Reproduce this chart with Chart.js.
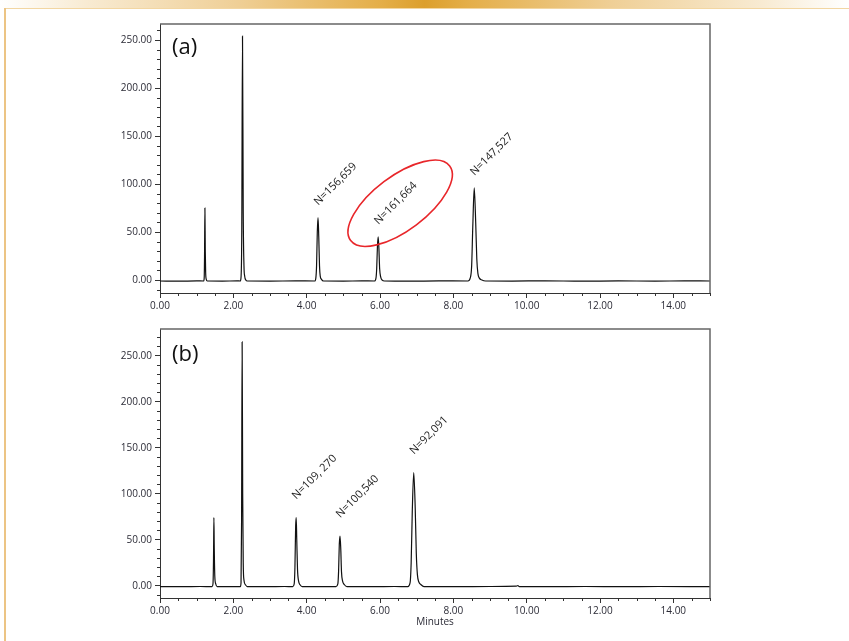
<!DOCTYPE html>
<html>
<head>
<meta charset="utf-8">
<script src="https://cdn.jsdelivr.net/npm/chart.js@4.4.1/dist/chart.umd.min.js"></script>
<style>
html, body { margin: 0; padding: 0; background: #fff; }
body { width: 849px; height: 641px; position: relative; overflow: hidden; }
#topbar { position: absolute; left: 0; top: 0; width: 849px; height: 8px;
  background: linear-gradient(to right, #fff 0%, #F8EBD3 10%, #EFCF96 28%, #E4AE48 45%, #DC9F2C 50%, #E4AE48 55%, #EFCF96 72%, #F8EBD3 90%, #fff 100%); }
#rule { position: absolute; left: 4px; top: 8px; width: 845px; height: 1px; background: #F2D6A2; }
#side { position: absolute; left: 4px; top: 8px; width: 2px; height: 633px; background: #ECC484; }
.panel { position: absolute; left: 100px; width: 620px; }
#wrapA { top: 14px; height: 310px; }
#wrapB { top: 319px; height: 322px; }
</style>
</head>
<body>
<div id="topbar"></div>
<div id="rule"></div>
<div id="side"></div>
<div class="panel" id="wrapA"><canvas id="chartA"></canvas></div>
<div class="panel" id="wrapB"><canvas id="chartB"></canvas></div>
<script>
// tick values
const xTicks = [0, 2, 4, 6, 8, 10, 12, 14];
const yTicks = [0, 50, 100, 150, 200, 250];

// chromatogram (a): time (min) and signal
const timeA = [0.00, 0.50, 1.00, 1.19, 1.205, 1.215, 1.225, 1.235, 1.245, 1.26, 1.29,
  1.70, 2.10, 2.19, 2.21, 2.23, 2.25, 2.27, 2.29, 2.31, 2.34, 2.38,
  3.00, 3.70, 4.22, 4.25, 4.27, 4.29, 4.31, 4.33, 4.35, 4.37, 4.40, 4.46,
  5.00, 5.50, 5.85, 5.89, 5.91, 5.93, 5.95, 5.97, 5.99, 6.02, 6.06, 6.12,
  6.80, 7.60, 8.40, 8.46, 8.50, 8.53, 8.57, 8.61, 8.64, 8.67, 8.71, 8.78, 8.88,
  9.60, 10.50, 11.50, 12.50, 13.50, 14.30, 15.00];
const signalA = [-1.0, -1.2, -0.9, -1.0, 2, 25, 75, 30, 8, 1, -1.0,
  -1.1, -0.9, -1.0, 3, 50, 254, 70, 15, 4, 0, -1.0,
  -1.1, -0.9, -1.0, 2, 15, 50, 65, 45, 15, 4, 1, -1.0,
  -1.1, -0.9, -1.0, 2, 12, 35, 45, 33, 12, 3, 0, -1.0,
  -1.2, -0.9, -1.0, 2, 15, 55, 96, 60, 22, 7, 2, 0, -1.0,
  -1.1, -0.8, -1.2, -0.9, -1.1, -0.9, -1.0];
const plateA = ['N=156,659', 'N=161,664', 'N=147,527'];
const plateTimeA = [4.31, 5.95, 8.57];
const plateHeightA = [65, 45, 96];

// chromatogram (b)
const timeB = [0.00, 0.60, 1.10, 1.42, 1.445, 1.46, 1.47, 1.48, 1.495, 1.52, 1.56,
  1.90, 2.19, 2.21, 2.225, 2.24, 2.255, 2.27, 2.29, 2.33, 2.38,
  2.90, 3.40, 3.62, 3.66, 3.68, 3.70, 3.715, 3.73, 3.75, 3.78, 3.82, 3.88,
  4.30, 4.80, 4.85, 4.87, 4.89, 4.91, 4.93, 4.95, 4.98, 5.03, 5.10,
  5.80, 6.40, 6.76, 6.82, 6.85, 6.88, 6.92, 6.96, 6.99, 7.02, 7.06, 7.12, 7.20,
  8.00, 9.00, 9.72, 9.76, 9.80, 10.60, 11.60, 12.60, 13.60, 15.00];
const signalB = [-1.0, -1.1, -0.9, -1.0, 2, 30, 74, 40, 10, 2, -1.0,
  -1.1, -1.0, 3, 70, 265, 100, 25, 6, 1, -1.0,
  -1.1, -0.9, -1.0, 2, 20, 65, 74, 50, 18, 5, 1, -1.0,
  -1.1, -1.0, 2, 15, 45, 54, 40, 15, 5, 1, -1.0,
  -1.1, -0.9, -1.0, 3, 25, 80, 123, 85, 35, 12, 4, 1, -1.0,
  -1.1, -0.9, -0.6, 0.2, -1.0, -1.1, -0.9, -1.1, -0.9, -1.0];
const plateB = ['N=109, 270', 'N=100,540', 'N=92,091'];
const plateTimeB = [3.71, 4.91, 6.92];
const plateHeightB = [74, 54, 123];

const tickFont = { family: '"Open Sans", sans-serif', size: 10 };
const inkColor = '#2b2b36';

// minor ticks, frame, panel tag, plate-count labels, highlight ellipse
const decor = {
    id: 'decor',
    afterDraw(chart, args, opts) {
        const { ctx, chartArea: a, scales: { x, y } } = chart;
        ctx.save();
        ctx.strokeStyle = '#333';
        ctx.lineWidth = 1;
        for (let v = 0; v <= 15.001; v += 0.5) {
            if (Math.abs(v % 2) < 0.001) continue;
            const px = Math.round(x.getPixelForValue(v)) + 0.5;
            ctx.beginPath();
            ctx.moveTo(px, a.bottom);
            ctx.lineTo(px, a.bottom + 3);
            ctx.stroke();
        }
        for (let v = -10; v <= y.max; v += 10) {
            if (v % 50 === 0) continue;
            const py = Math.round(y.getPixelForValue(v)) + 0.5;
            ctx.beginPath();
            ctx.moveTo(a.left, py);
            ctx.lineTo(a.left - 3, py);
            ctx.stroke();
        }

        // frame
        ctx.strokeStyle = '#666';
        ctx.lineWidth = 1.5;
        ctx.beginPath();
        ctx.moveTo(a.left, a.top);
        ctx.lineTo(a.right, a.top);
        ctx.lineTo(a.right, a.bottom);
        ctx.stroke();

        // panel tag
        ctx.fillStyle = '#111';
        ctx.font = '22px "Open Sans", sans-serif';
        ctx.textAlign = 'left';
        ctx.textBaseline = 'middle';
        ctx.fillText(opts.tag, a.left + 12, a.top + opts.tagDy);

        // N labels
        ctx.font = '11px "Open Sans", sans-serif';
        ctx.fillStyle = '#222';
        opts.labels.forEach((txt, i) => {
            const px = x.getPixelForValue(opts.times[i]);
            const py = y.getPixelForValue(opts.heights[i]);
            ctx.save();
            ctx.translate(px - 2, py - opts.gap);
            ctx.rotate(-Math.PI / 4);
            ctx.fillText(txt, 0, 0);
            ctx.restore();
        });

        if (opts.ellipse) {
            const e = opts.ellipse;
            ctx.strokeStyle = '#E8262A';
            ctx.lineWidth = 1.6;
            ctx.beginPath();
            ctx.ellipse(x.getPixelForValue(e.x), y.getPixelForValue(e.y), e.rx, e.ry, e.rot, 0, Math.PI * 2);
            ctx.stroke();
        }
        ctx.restore();
    }
};

function makePanel(canvasId, times, signal, yMin, yMax, xAxisHeight, showTitle, deco) {
    const points = times.map((t, i) => ({ x: t, y: signal[i] }));
    return new Chart(document.getElementById(canvasId).getContext('2d'), {
        type: 'line',
        data: {
            datasets: [{
                data: points,
                borderColor: '#111',
                borderWidth: 1.2,
                pointRadius: 0,
                cubicInterpolationMode: 'monotone',
                fill: false
            }]
        },
        options: {
            responsive: true,
            maintainAspectRatio: false,
            animation: false,
            layout: { padding: { top: 10, right: 10, left: 0, bottom: 0 } },
            plugins: {
                legend: { display: false },
                tooltip: { enabled: false },
                decor: deco
            },
            scales: {
                x: {
                    type: 'linear',
                    min: 0,
                    max: 15,
                    afterBuildTicks: s => { s.ticks = xTicks.map(v => ({ value: v })); },
                    afterFit: s => { s.height = xAxisHeight; },
                    ticks: {
                        autoSkip: false,
                        maxRotation: 0,
                        padding: 2,
                        font: tickFont,
                        color: inkColor,
                        callback: v => Number(v).toFixed(2)
                    },
                    grid: { display: true, drawOnChartArea: false, drawTicks: true, tickLength: 5, color: '#333' },
                    border: { display: true, color: '#333', width: 1 },
                    title: {
                        display: showTitle,
                        text: 'Minutes',
                        font: tickFont,
                        color: inkColor,
                        padding: { top: 0, bottom: 13 }
                    }
                },
                y: {
                    type: 'linear',
                    min: yMin,
                    max: yMax,
                    afterBuildTicks: s => { s.ticks = yTicks.map(v => ({ value: v })); },
                    afterFit: s => { s.width = 60; },
                    ticks: {
                        padding: 3,
                        font: tickFont,
                        color: inkColor,
                        callback: v => Number(v).toFixed(2)
                    },
                    grid: { display: true, drawOnChartArea: false, drawTicks: true, tickLength: 5, color: '#333' },
                    border: { display: true, color: '#333', width: 1 }
                }
            }
        },
        plugins: [decor]
    });
}

makePanel('chartA', timeA, signalA, -13.5, 266.7, 31, false, {
    tag: '(a)', tagDy: 24, gap: 14,
    labels: plateA, times: plateTimeA, heights: plateHeightA,
    ellipse: { x: 6.55, y: 80, rx: 62, ry: 27, rot: -37 * Math.PI / 180 }
});

makePanel('chartB', timeB, signalB, -13.4, 279, 43, true, {
    tag: '(b)', tagDy: 26, gap: 20,
    labels: plateB, times: plateTimeB, heights: plateHeightB,
    ellipse: null
});
</script>
</body>
</html>
